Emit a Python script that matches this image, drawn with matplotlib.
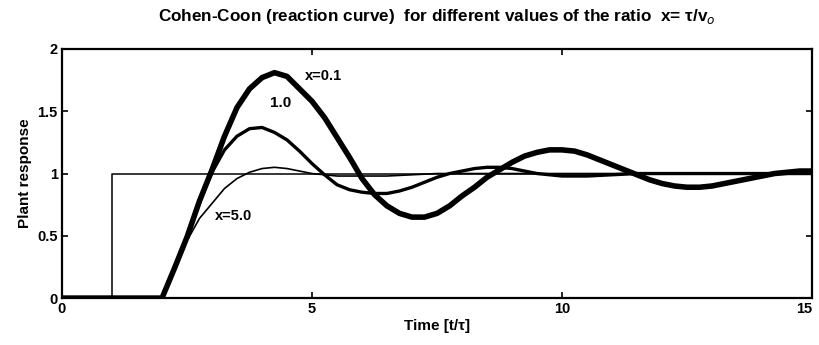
import matplotlib.pyplot as plt

plt.rcParams['font.family'] = ['Liberation Sans', 'DejaVu Sans']

# step input
step_t = [0, 1, 1, 15]
step_y = [0, 0, 1, 1]

# x = 0.1 (thick curve)
t_01 = [0, 2.0, 2.25, 2.5, 2.75, 3.0, 3.25, 3.5, 3.75, 4.0, 4.25, 4.5, 4.75,
        5.0, 5.25, 5.5, 5.75, 6.0, 6.25, 6.5, 6.75, 7.0, 7.25, 7.5, 7.75,
        8.0, 8.25, 8.5, 8.75, 9.0, 9.25, 9.5, 9.75, 10.0, 10.25, 10.5, 10.75,
        11.0, 11.25, 11.5, 11.75, 12.0, 12.25, 12.5, 12.75, 13.0, 13.25,
        13.5, 13.75, 14.0, 14.25, 14.5, 14.75, 15.0]
y_01 = [0, 0, 0.24, 0.49, 0.78, 1.03, 1.30, 1.53, 1.68, 1.77, 1.81, 1.78, 1.68,
        1.58, 1.45, 1.29, 1.13, 0.96, 0.83, 0.74, 0.68, 0.65, 0.65, 0.68, 0.74,
        0.82, 0.89, 0.97, 1.03, 1.09, 1.14, 1.17, 1.19, 1.19, 1.18, 1.15, 1.11,
        1.07, 1.03, 0.99, 0.95, 0.92, 0.90, 0.89, 0.89, 0.90, 0.92,
        0.94, 0.96, 0.98, 1.00, 1.01, 1.02, 1.02]

# x = 1.0 (medium curve)
t_10 = [0, 2.0, 2.25, 2.5, 2.75, 3.0, 3.25, 3.5, 3.75, 4.0, 4.25, 4.5, 4.75,
        5.0, 5.25, 5.5, 5.75, 6.0, 6.25, 6.5, 6.75, 7.0, 7.25, 7.5, 7.75,
        8.0, 8.25, 8.5, 8.75, 9.0, 9.25, 9.5, 9.75, 10.0, 10.5, 11.0, 11.5,
        12.0, 13.0, 14.0, 15.0]
y_10 = [0, 0, 0.24, 0.49, 0.77, 1.01, 1.19, 1.30, 1.36, 1.37, 1.33, 1.27, 1.18,
        1.08, 0.99, 0.91, 0.87, 0.85, 0.84, 0.84, 0.86, 0.89, 0.93, 0.97, 1.00,
        1.02, 1.04, 1.05, 1.05, 1.04, 1.02, 1.00, 0.99, 0.98, 0.98, 0.99, 1.00,
        1.00, 1.00, 1.00, 1.00]

# x = 5.0 (thin curve)
t_50 = [0, 2.0, 2.25, 2.5, 2.75, 3.0, 3.25, 3.5, 3.75, 4.0, 4.25, 4.5, 4.75,
        5.0, 5.25, 5.5, 6.0, 6.5, 7.0, 7.5, 9.0, 11.0, 13.0, 15.0]
y_50 = [0, 0, 0.22, 0.46, 0.64, 0.76, 0.88, 0.96, 1.01, 1.04, 1.05, 1.04, 1.02,
        1.00, 0.99, 0.98, 0.98, 0.98, 0.99, 1.00, 1.00, 1.00, 1.00, 1.00]

fig = plt.figure(figsize=(8.19, 3.45), dpi=100)
ax = fig.add_axes([0.0757, 0.136, 0.9158, 0.722])

ax.plot(step_t, step_y, color='black', lw=1.1)
ax.plot(t_50, y_50, color='black', lw=1.2)
ax.plot(t_10, y_10, color='black', lw=2.4)
ax.plot(t_01, y_01, color='black', lw=4.0)

ax.text(4.85, 1.78, 'x=0.1', fontsize=10.5, fontweight='bold', va='center')
ax.text(4.16, 1.57, '1.0', fontsize=11, fontweight='bold', va='center')
ax.text(3.06, 0.66, 'x=5.0', fontsize=10.5, fontweight='bold', va='center')

ax.set_xlim(0, 15)
ax.set_ylim(0, 2)
ax.set_xticks([0, 5, 10, 15])
ax.set_yticks([0, 0.5, 1, 1.5, 2])
ax.set_yticklabels(['0', '0.5', '1', '1.5', '2'])
ax.tick_params(direction='in', top=True, right=True, length=4, width=1.2,
               labelsize=10.5, pad=3)
for lab in ax.get_xticklabels() + ax.get_yticklabels():
    lab.set_fontweight('bold')
ax.get_xticklabels()[-1].set_horizontalalignment('right')
for s in ax.spines.values():
    s.set_linewidth(1.6)

ax.set_xlabel('Time [t/\u03c4]', fontsize=11, fontweight='bold', labelpad=2)
ax.set_ylabel('Plant response', fontsize=11, fontweight='bold', labelpad=4)
ax.set_title('Cohen-Coon (reaction curve)  for different values of the ratio  x= \u03c4/v$_o$',
             fontsize=12.3, fontweight='bold', pad=20)

fig.savefig('out.png', dpi=100)
